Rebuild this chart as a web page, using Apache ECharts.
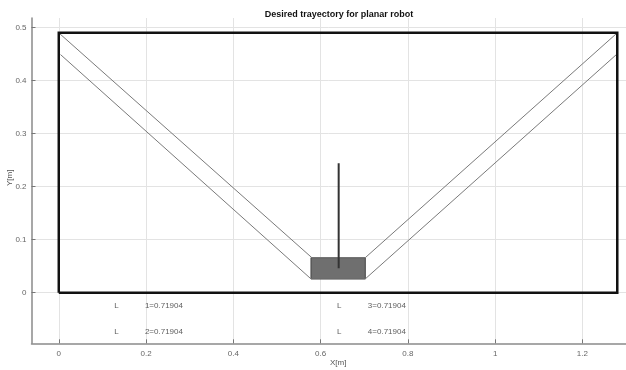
<!DOCTYPE html>
<html>
<head>
<meta charset="utf-8">
<script src="https://cdn.jsdelivr.net/npm/echarts@6/dist/echarts.min.js"></script>
<style>
  html, body { margin: 0; padding: 0; background: #fff; }
  #chart { width: 626px; height: 370px; }
</style>
</head>
<body>
<div id="chart"></div>
<script>
// Workspace boundary (x, y in metres)
const workspaceX = [0, 0, 1.28, 1.28, 0];
const workspaceY = [0, 0.49, 0.49, 0, 0];

// Upper and lower edges of the swept trajectory band
const upperPathX = [0, 0.58, 0.7025, 1.28];
const upperPathY = [0.49, 0.066, 0.066, 0.49];
const lowerPathX = [0.004, 0.578, 0.7025, 1.278];
const lowerPathY = [0.449, 0.026, 0.026, 0.449];

// End-effector block and its vertical link
const blockX = [0.578, 0.7025];
const blockY = [0.026, 0.066];
const linkX = [0.6415, 0.6415];
const linkY = [0.046, 0.244];

// Link-length annotations
const linkNames = ['1', '2', '3', '4'];
const linkLengths = ['0.71904', '0.71904', '0.71904', '0.71904'];
const labelLX = [0.132, 0.132, 0.643, 0.643];
const labelValX = [0.241, 0.241, 0.752, 0.752];
const labelY = [-0.025, -0.0735, -0.025, -0.0735];

// Tick values
const xTicks = [0, 0.2, 0.4, 0.6, 0.8, 1, 1.2];
const yTicks = [0, 0.1, 0.2, 0.3, 0.4, 0.5];

const zip = (xs, ys) => xs.map((x, i) => [x, ys[i]]);

const font = 'Liberation Sans, Arial, sans-serif';
const chart = echarts.init(document.getElementById('chart'));

const fmt = v => String(Math.round(v * 10) / 10);

chart.setOption({
  animation: false,
  backgroundColor: '#ffffff',
  title: {
    text: 'Desired trayectory for planar robot',
    left: 334, top: 5, textAlign: 'center',
    textStyle: { fontFamily: font, fontSize: 9, fontWeight: 'bold', color: '#111' }
  },
  grid: { left: 31.5, right: 0, top: 18, bottom: 26.7, containLabel: false },
  xAxis: {
    type: 'value', min: -0.0625, max: 1.3,
    axisLine: { show: true, onZero: false, lineStyle: { color: '#8a8a8a', width: 1.5 } },
    axisTick: { show: true, inside: true, length: 4, customValues: xTicks, lineStyle: { color: '#777' } },
    axisLabel: { customValues: xTicks, formatter: fmt, margin: 6, fontFamily: font, fontSize: 8, color: '#666' },
    splitLine: { show: true, lineStyle: { color: '#e3e3e3', width: 1 } }
  },
  yAxis: {
    type: 'value', min: -0.0955, max: 0.518,
    axisLine: { show: true, onZero: false, lineStyle: { color: '#8a8a8a', width: 1.5 } },
    axisTick: { show: true, inside: true, length: 4, customValues: yTicks, lineStyle: { color: '#777' } },
    axisLabel: { customValues: yTicks, formatter: fmt, margin: 5, fontFamily: font, fontSize: 8, color: '#666' },
    splitLine: { show: true, lineStyle: { color: '#e3e3e3', width: 1 } }
  },
  graphic: [
    { type: 'text', left: 330, top: 359, style: { text: 'X[m]', fontFamily: font, fontSize: 8, fill: '#555' } },
    { type: 'text', x: 6, y: 186, rotation: Math.PI / 2, style: { text: 'Y[m]', fontFamily: font, fontSize: 8, fill: '#555' } }
  ],
  series: [
    {
      type: 'line', data: zip(upperPathX, upperPathY), symbol: 'none',
      lineStyle: { color: '#7a7a7a', width: 1 }, silent: true
    },
    {
      type: 'line', data: zip(lowerPathX, lowerPathY), symbol: 'none',
      lineStyle: { color: '#7a7a7a', width: 1 }, silent: true,
      markArea: {
        silent: true,
        itemStyle: { color: '#6f6f6f', borderColor: '#444', borderWidth: 1 },
        data: [[{ coord: [blockX[0], blockY[0]] }, { coord: [blockX[1], blockY[1]] }]]
      }
    },
    {
      type: 'line', data: zip(linkX, linkY), symbol: 'none', z: 5,
      lineStyle: { color: '#333', width: 2 }, silent: true
    },
    {
      type: 'line', data: zip(workspaceX, workspaceY), symbol: 'none', z: 6,
      lineStyle: { color: '#111', width: 2.5, join: 'miter' }, silent: true
    },
    {
      type: 'scatter', symbolSize: 0, silent: true,
      data: zip(labelLX, labelY).map(p => ({ value: p, name: 'L' })),
      label: { show: true, position: 'inside', formatter: '{b}', fontFamily: font, fontSize: 8, color: '#333' }
    },
    {
      type: 'scatter', symbolSize: 0, silent: true,
      data: zip(labelValX, labelY).map((p, i) => ({ value: p, name: linkNames[i] + '=' + linkLengths[i] })),
      label: { show: true, position: 'inside', formatter: '{b}', fontFamily: font, fontSize: 8, color: '#333' }
    }
  ]
});
</script>
</body>
</html>
